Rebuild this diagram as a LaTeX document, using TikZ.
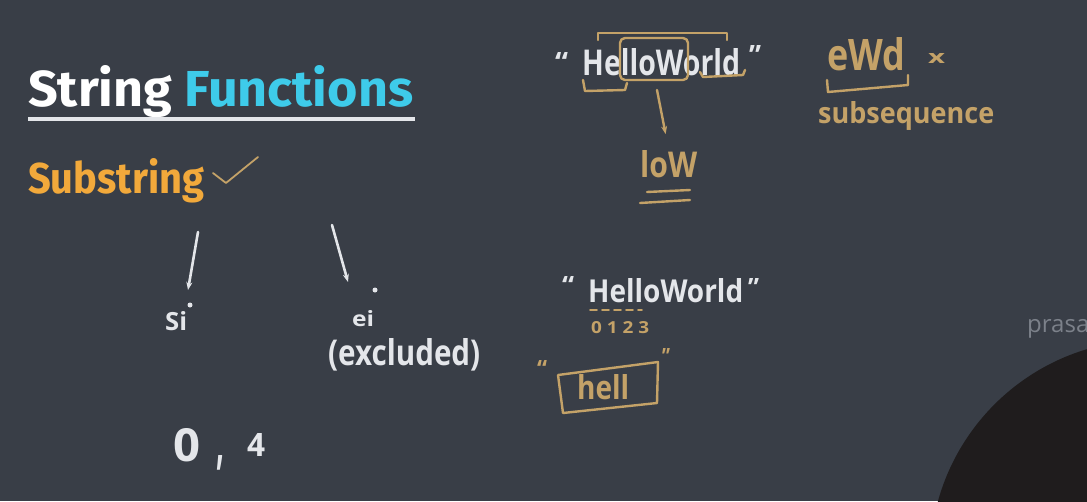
\documentclass[tikz,border=0pt]{standalone}
\usepackage{fontspec}
\setmainfont{Fira Sans}
\newfontfamily\hand{Open Sans}
\usetikzlibrary{arrows.meta}
\definecolor{bg}{HTML}{393E47}
\definecolor{titlecyan}{HTML}{3ECBEA}
\definecolor{subor}{HTML}{F2A93B}
\definecolor{tan}{HTML}{C4A268}
\definecolor{chalk}{HTML}{E4E6EA}
\definecolor{shadow}{HTML}{1F1C1D}
\definecolor{wm}{HTML}{7C818A}
\newcommand{\fitbox}[3]{\resizebox{#1pt}{#2pt}{#3}}
\newcommand{\hw}{\hand\bfseries}
\begin{document}
\begin{tikzpicture}[x=1pt,y=-1pt,
  txt/.style={inner sep=0pt, anchor=base west},
  ink/.style={draw=tan, line width=2.4pt, line cap=round, line join=round},
  chalkline/.style={draw=chalk, line width=2.6pt, line cap=round, line join=round},
  arr/.style={-{Stealth[length=8pt,width=6pt]}},
  dotmark/.style={circle, inner sep=0pt, minimum size=5pt}]
\fill[bg] (0,0) rectangle (1087,501);
\useasboundingbox (0,0) rectangle (1087,501);
\begin{scope}
\clip (0,0) rectangle (1087,501);
\fill[shadow] (1150,560) circle (220);
\node[txt, text=wm, font=\hand\fontsize{24}{24}\selectfont] (wmark) at (1027,332) {prasa};
\end{scope}

% title
\node[txt] (title) at (28,106) {\fitbox{385}{41}{\bfseries\color{white}String \color{titlecyan}Functions}};
\draw[draw=chalk, line width=3.5pt] (28,119) coordinate (ul1) -- (415,119) coordinate (ul2);
\node[txt] (sub) at (28,193) {\fitbox{176}{35}{\bfseries\color{subor}Substring}};
\draw[ink, line width=1.8pt] (213,173) coordinate (c1) -- (226,183) coordinate (c2) -- (258,157) coordinate (c3);

% left part
\coordinate (a1s) at (198,232);
\coordinate (a1e) at (188,290);
\draw[chalkline, arr] (a1s) -- (a1e);
\node[dotmark, fill=chalk] (d1) at (190,305) {};
\node[txt, text=chalk] (si) at (165,330) {\hw\fitbox{22}{19}{Si}};
\coordinate (a2s) at (332,225);
\coordinate (a2e) at (348,282);
\draw[chalkline, arr] (a2s) -- (a2e);
\node[dotmark, fill=chalk] (d2) at (375,290) {};
\node[txt, text=chalk] (ei) at (352,326) {\hw\fitbox{22}{16}{ei}};
\node[txt, text=chalk] (excl) at (328,365) {\hw\fitbox{152}{27}{(excluded)}};
\node[txt, text=chalk] (zero) at (173,461) {\hw\fitbox{27}{33}{0}};
\node[txt, text=chalk] (comma) at (216,462) {\hw\fitbox{8}{7}{,}};
\node[txt, text=chalk] (four) at (247,456) {\hw\fitbox{18}{23}{4}};

% top middle
\node[txt, text=chalk] (q1) at (555,72) {\hw\fitbox{13}{20}{“}};
\node[txt, text=chalk] (hw1) at (582,75) {\hw\fitbox{158}{27}{HelloWorld}};
\node[txt, text=chalk] (q2) at (749,65) {\hw\fitbox{12}{20}{”}};
\draw[ink] (598,40) -- (598,33) -- (727,33) -- (727,40);
\draw[ink, rounded corners=5pt] (620,80) -- (620,38) -- (688,38) -- (688,80) -- cycle;
\draw[ink] (583,80) -- (585,91) -- (625,90) -- (627,83);
\draw[ink] (700,72) -- (703,77) -- (743,75) -- (745,70);
\node[txt, text=tan] (low) at (640,177) {\hw\fitbox{57}{27}{loW}};
\coordinate (a3s) at (657,90);
\draw[ink, arr, shorten >=16pt] (a3s) -- (low.north);
\draw[ink] (647,192) -- (690,190);
\draw[ink] (640,203) -- (690,200);

% top right
\node[txt, text=tan] (ewd) at (827,70) {\hw\fitbox{78}{33}{eWd}};
\node[txt, text=tan] (xmark) at (928,63) {\hw\fitbox{17}{10}{x}};
\draw[ink] (827,80) -- (828,92) -- (908,85) -- (908,75);
\node[txt, text=tan] (subseq) at (818,123) {\hw\fitbox{176}{22}{subsequence}};

% bottom middle
\node[txt, text=chalk] (q3) at (562,294) {\hw\fitbox{12}{18}{“}};
\node[txt, text=chalk] (hw2) at (588,302) {\hw\fitbox{155}{24}{HelloWorld}};
\node[txt, text=chalk] (q4) at (748,296) {\hw\fitbox{11}{18}{”}};
\draw[ink, line width=1.8pt, dash pattern=on 7pt off 5pt] (590,310) -- (642,310);
\node[txt, text=tan] (idx) at (591,333) {\hw\fitbox{58}{12}{0 1 2 3}};
\node[txt, text=tan] (q5) at (537,377) {\hw\fitbox{10}{17}{“}};
\draw[ink] (558,375) -- (658,362) -- (657,403) -- (563,413) -- cycle;
\node[txt, text=tan] (hell) at (577,399) {\hw\fitbox{52}{25}{hell}};
\node[txt, text=tan] (q6) at (662,364) {\hw\fitbox{8}{16}{”}};
\end{tikzpicture}
\end{document}
